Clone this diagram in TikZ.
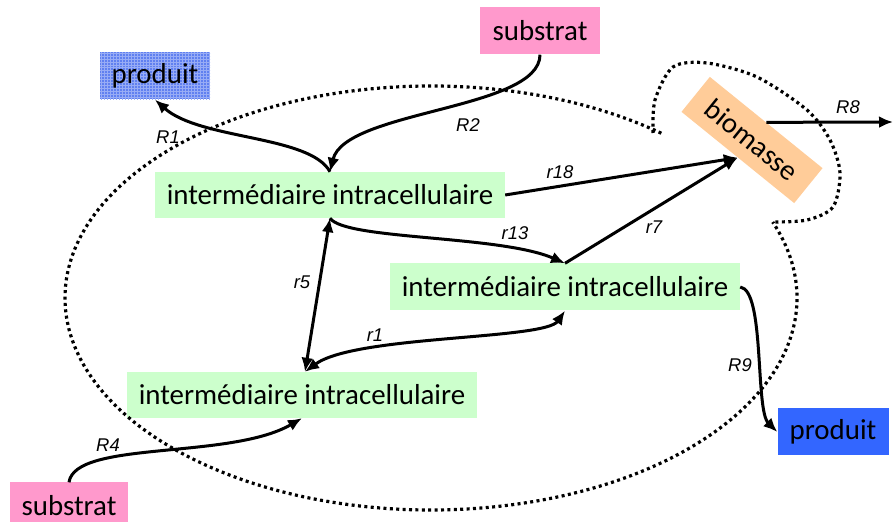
\documentclass[tikz,border=0pt]{standalone}
\usepackage{fontspec}
\setmainfont{Carlito}
\newfontfamily\lblfont{Liberation Sans}
\usepackage{tikz}
\usetikzlibrary{arrows.meta,shapes,patterns}
\definecolor{subcol}{HTML}{FF99CC}
\definecolor{intcol}{HTML}{CCFFCC}
\definecolor{biocol}{HTML}{FFCC99}
\definecolor{prodcol}{HTML}{3366FF}
\definecolor{prodtop}{HTML}{6080F0}
\newcommand{\rlab}[1]{{\lblfont\itshape #1}}

\begin{document}
\begin{tikzpicture}[>={Latex[length=14bp,width=12bp]}]
      \tikzstyle{every node}=[font=\fontsize{29}{31}\selectfont, inner sep=0pt]
      \tikzstyle{box}=[minimum height=47bp]
      \tikzstyle{inter}=[box, fill=intcol, minimum width=350bp]
      \tikzstyle{flux}=[line width=3bp]
      \tikzstyle{membrane}=[line width=3.2bp, dash pattern=on 3bp off 3.4bp]
      \tikzstyle{lbl}=[font=\fontsize{18.5}{20}\selectfont]
      \useasboundingbox (0bp,0bp) rectangle (895bp,522bp);
      %%
  \coordinate (cell) at (431bp,224bp);
  \coordinate (out) at (893bp,400bp);
  \node (sub1) at (540bp,491bp) [box,fill=subcol,minimum width=120bp] {substrat};
  \node (prod1) at (155bp,446bp) [box,minimum width=110bp,preaction={fill=prodtop},pattern=grid,pattern color=white!35!prodtop] {produit};
  \node (int1) at (330bp,327bp) [inter,minimum height=46bp] {intermédiaire intracellulaire};
  \node (int2) at (565bp,235bp) [inter] {intermédiaire intracellulaire};
  \node (int3) at (302bp,127bp) [inter,minimum height=46bp] {intermédiaire intracellulaire};
  \node (sub2) at (69bp,16bp) [box,fill=subcol,minimum width=118bp] {substrat};
  \node (prod2) at (833bp,90bp) [box,fill=prodcol,minimum width=111bp] {produit};
  \node (bio) at (752bp,382bp) [box,fill=biocol,minimum width=145bp,minimum height=45bp,rotate=-39] {biomasse};
  %% membrane
  \draw [membrane] (cell) ++(51:366bp and 212bp) arc [start angle=51, end angle=381, x radius=366bp, y radius=212bp];
  \draw [membrane] plot [smooth] coordinates {(653bp,389bp) (655bp,422bp) (673bp,455bp) (707bp,459bp) (757bp,445bp) (807bp,412bp) (830bp,382bp) (840bp,349bp) (833bp,315bp) (807bp,302bp) (773bp,300bp)};
  %% fluxes
  \draw [flux,->] (sub1.south) ..controls (540bp,412bp) and (345bp,412bp) .. (int1.north);
  \draw [flux,->] (int1.north) ..controls (310bp,387bp) and (200bp,382bp) .. (prod1.south);
  \draw [flux,->] (int1.east) -- (bio.south);
  \draw [flux,->] (int2.north) -- (bio.south);
  \draw [flux,->] (bio.north) -- (out);
  \draw [flux,->] (int1.south) ..controls (345bp,282bp) and (500bp,287bp) .. (int2.north);
  \draw [flux,<->] ([xshift=3bp]int3.north) -- (int1.south);
  \draw [flux,<->] (int2.south) ..controls (545bp,182bp) and (355bp,187bp) .. ([xshift=3bp]int3.north);
  \draw [flux,->] (sub2.north) ..controls (75bp,82bp) and (230bp,62bp) .. (int3.south);
  \draw [flux,->] (int2.east) ..controls (765bp,232bp) and (755bp,112bp) .. (prod2.west);
  %% labels
  \node (lR1) at (168bp,385bp) [lbl] {\rlab{R1}};
  \node (lR2) at (468bp,397bp) [lbl] {\rlab{R2}};
  \node (lr18) at (560bp,350bp) [lbl] {\rlab{r18}};
  \node (lR8) at (848bp,415bp) [lbl] {\rlab{R8}};
  \node (lr7) at (654bp,295bp) [lbl] {\rlab{r7}};
  \node (lr13) at (515bp,289bp) [lbl] {\rlab{r13}};
  \node (lr5) at (302bp,240bp) [lbl] {\rlab{r5}};
  \node (lr1) at (375bp,187bp) [lbl] {\rlab{r1}};
  \node (lR9) at (740bp,157bp) [lbl] {\rlab{R9}};
  \node (lR4) at (108bp,77bp) [lbl] {\rlab{R4}};
%
\end{tikzpicture}
\end{document}
